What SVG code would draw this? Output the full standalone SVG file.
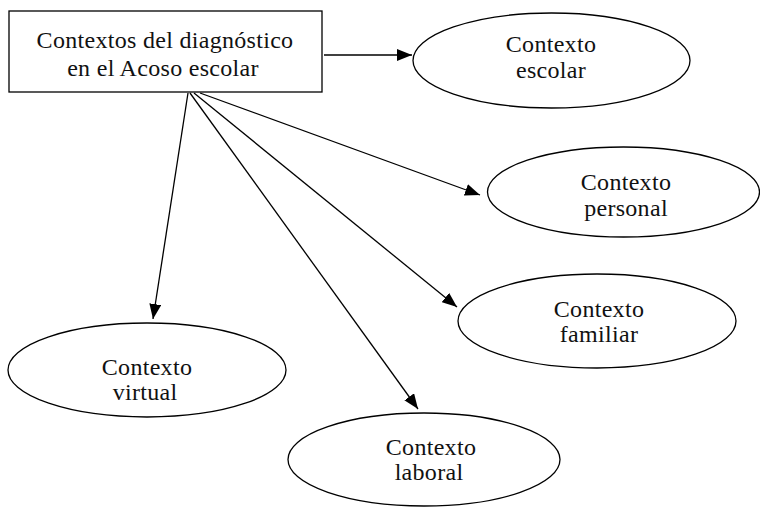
<svg xmlns="http://www.w3.org/2000/svg" width="760" height="507" viewBox="0 0 760 507">
<style>
  .shape { fill: #ffffff; stroke: #000000; stroke-width: 1.3; }
  .lbl { font-family: "Liberation Serif", "Times New Roman", serif; font-size: 24px; fill: #111111; text-anchor: middle; letter-spacing: 0.3px; }
  .edge { stroke: #000000; stroke-width: 1.3; fill: none; marker-end: url(#arrow); }
</style>
<defs>
  <marker id="arrow" markerUnits="userSpaceOnUse" markerWidth="16" markerHeight="12" refX="15" refY="6" orient="auto">
    <path d="M0,0 L15,6 L0,12 Z" fill="#000000"/>
  </marker>
</defs>
<rect width="760" height="507" fill="#ffffff"/>
<g id="connectors">
  <line class="edge" x1="324" y1="55" x2="412" y2="55"/>
  <line class="edge" x1="188" y1="93" x2="153" y2="319"/>
  <line class="edge" x1="190" y1="93" x2="418" y2="409"/>
  <line class="edge" x1="194" y1="93" x2="457" y2="307"/>
  <line class="edge" x1="200" y1="93" x2="480" y2="195"/>
</g>
<g id="main">
  <rect class="shape" x="9" y="11" width="313" height="81"/>
  <text class="lbl" x="165" y="48">Contextos del diagnóstico</text>
  <text class="lbl" x="163" y="76">en el Acoso escolar</text>
</g>
<g id="escolar">
  <ellipse class="shape" cx="551.5" cy="60.5" rx="138.5" ry="47.5"/>
  <text class="lbl" x="551" y="52">Contexto</text>
  <text class="lbl" x="551" y="78">escolar</text>
</g>
<g id="personal">
  <ellipse class="shape" cx="623.5" cy="192" rx="136" ry="45"/>
  <text class="lbl" x="626" y="190">Contexto</text>
  <text class="lbl" x="626" y="216">personal</text>
</g>
<g id="familiar">
  <ellipse class="shape" cx="597" cy="321" rx="139" ry="47"/>
  <text class="lbl" x="599" y="317">Contexto</text>
  <text class="lbl" x="599" y="342">familiar</text>
</g>
<g id="virtual">
  <ellipse class="shape" cx="147" cy="370" rx="139" ry="47"/>
  <text class="lbl" x="147" y="375">Contexto</text>
  <text class="lbl" x="145" y="400">virtual</text>
</g>
<g id="laboral">
  <ellipse class="shape" cx="424" cy="459.5" rx="136" ry="46.5"/>
  <text class="lbl" x="431" y="455">Contexto</text>
  <text class="lbl" x="429" y="480">laboral</text>
</g>
</svg>
